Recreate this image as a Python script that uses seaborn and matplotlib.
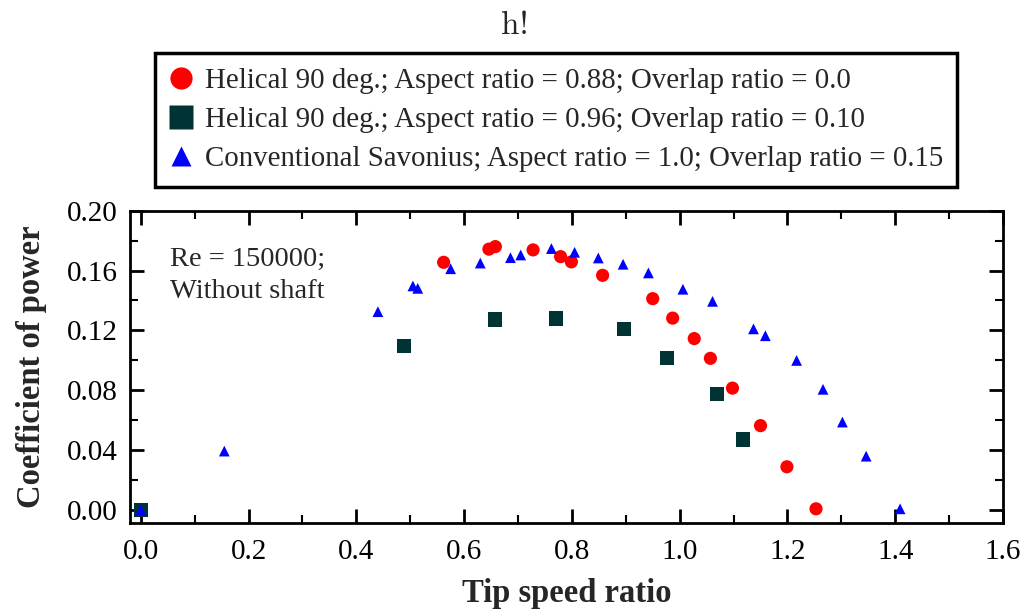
import numpy as np
import pandas as pd
import matplotlib
matplotlib.use("Agg")
import matplotlib.pyplot as plt
from matplotlib.lines import Line2D
from matplotlib.ticker import MultipleLocator, FormatStrFormatter
import seaborn as sns

# ── Data ──────────────────────────────────────────────────────────────────────
helical88_tsr = [0.562, 0.646, 0.658, 0.728, 0.779, 0.799, 0.857, 0.950, 0.987,
                 1.027, 1.057, 1.098, 1.150, 1.199, 1.253]
helical88_cp  = [0.1655, 0.1743, 0.1760, 0.1738, 0.1693, 0.1658, 0.1568, 0.1412,
                 0.1282, 0.1145, 0.1013, 0.0814, 0.0563, 0.0288, 0.0007]

helical96_tsr = [0.0, 0.489, 0.657, 0.771, 0.897, 0.976, 1.069, 1.117]
helical96_cp  = [0.0, 0.1094, 0.1273, 0.1280, 0.1208, 0.1014, 0.0777, 0.0471]

savonius_tsr = [0.0, 0.155, 0.440, 0.505, 0.514, 0.575, 0.630, 0.686, 0.705, 0.762,
                0.805, 0.849, 0.895, 0.942, 1.006, 1.061, 1.137, 1.159, 1.217,
                1.266, 1.302, 1.346, 1.409]
savonius_cp  = [0.0, 0.0393, 0.1325, 0.1497, 0.1481, 0.1612, 0.1650, 0.1686, 0.1704,
                0.1747, 0.1722, 0.1684, 0.1642, 0.1584, 0.1475, 0.1394, 0.1210,
                0.1164, 0.0999, 0.0806, 0.0587, 0.0359, 0.0007]

labels = [
    "Helical 90 deg.; Aspect ratio = 0.88; Overlap ratio = 0.0",
    "Helical 90 deg.; Aspect ratio = 0.96; Overlap ratio = 0.10",
    "Conventional Savonius; Aspect ratio = 1.0; Overlap ratio = 0.15",
]

# ── Style ─────────────────────────────────────────────────────────────────────
sns.set_style("ticks")
plt.rcParams["font.family"] = ["Liberation Serif", "DejaVu Serif"]

RED, TEAL, BLUE = "#ff0000", "#003333", "#0000ff"

fig = plt.figure(figsize=(10.26, 6.12), dpi=100)
ax = fig.add_axes([0.1267, 0.1449, 0.8509, 0.5108])

df_red  = pd.DataFrame({"tsr": helical88_tsr, "cp": helical88_cp})
df_teal = pd.DataFrame({"tsr": helical96_tsr, "cp": helical96_cp})
df_blue = pd.DataFrame({"tsr": savonius_tsr, "cp": savonius_cp})

sns.scatterplot(data=df_teal, x="tsr", y="cp", ax=ax, marker="s", s=105,
                color=TEAL, edgecolor="none", zorder=3)
sns.scatterplot(data=df_red, x="tsr", y="cp", ax=ax, marker="o", s=90,
                color=RED, edgecolor="none", zorder=4)
sns.scatterplot(data=df_blue, x="tsr", y="cp", ax=ax, marker="^", s=60,
                color=BLUE, edgecolor="none", zorder=5)

ax.set_xlim(-0.02, 1.6)
ax.set_ylim(-0.009, 0.2)
ax.xaxis.set_major_locator(MultipleLocator(0.2))
ax.xaxis.set_minor_locator(MultipleLocator(0.1))
ax.yaxis.set_major_locator(MultipleLocator(0.04))
ax.yaxis.set_minor_locator(MultipleLocator(0.02))
ax.xaxis.set_major_formatter(FormatStrFormatter("%.1f"))
ax.yaxis.set_major_formatter(FormatStrFormatter("%.2f"))

ax.tick_params(which="both", direction="in", top=True, right=True,
               labelsize=21, colors="black")
ax.tick_params(axis="x", pad=11)
ax.tick_params(axis="y", pad=9)
ax.tick_params(which="major", length=10, width=2)
ax.tick_params(which="minor", length=6, width=1.5)
for sp in ax.spines.values():
    sp.set_linewidth(2)
    sp.set_color("black")

ax.set_xlabel("Tip speed ratio", fontsize=23.5, fontweight="bold", labelpad=10)
ax.set_ylabel("Coefficient of power", fontsize=23.5, fontweight="bold", labelpad=14)

ax.text(0.046, 0.885, "Re = 150000;\nWithout shaft", transform=ax.transAxes,
        fontsize=20.5, va="top", ha="left", linespacing=1.38)

# ── Legend above the axes ─────────────────────────────────────────────────────
handles = [
    Line2D([], [], ls="none", marker="o", color=RED, markersize=16, mec="none"),
    Line2D([], [], ls="none", marker="s", color=TEAL, markersize=17, mec="none"),
    Line2D([], [], ls="none", marker="^", color=BLUE, markersize=14, mec="none"),
]
leg = fig.legend(handles, labels, loc="upper left", bbox_to_anchor=(0.151, 0.913),
                 fontsize=20.8, frameon=True, fancybox=False, framealpha=1,
                 edgecolor="black", borderaxespad=0, handlelength=0.8,
                 handletextpad=0.42, labelspacing=0.45, borderpad=0.5)
leg.get_frame().set_linewidth(2.5)

fig.text(0.502, 0.959, "h!", fontsize=24, family="cmr10", ha="center", va="center")

fig.savefig("out.png", dpi=100)
